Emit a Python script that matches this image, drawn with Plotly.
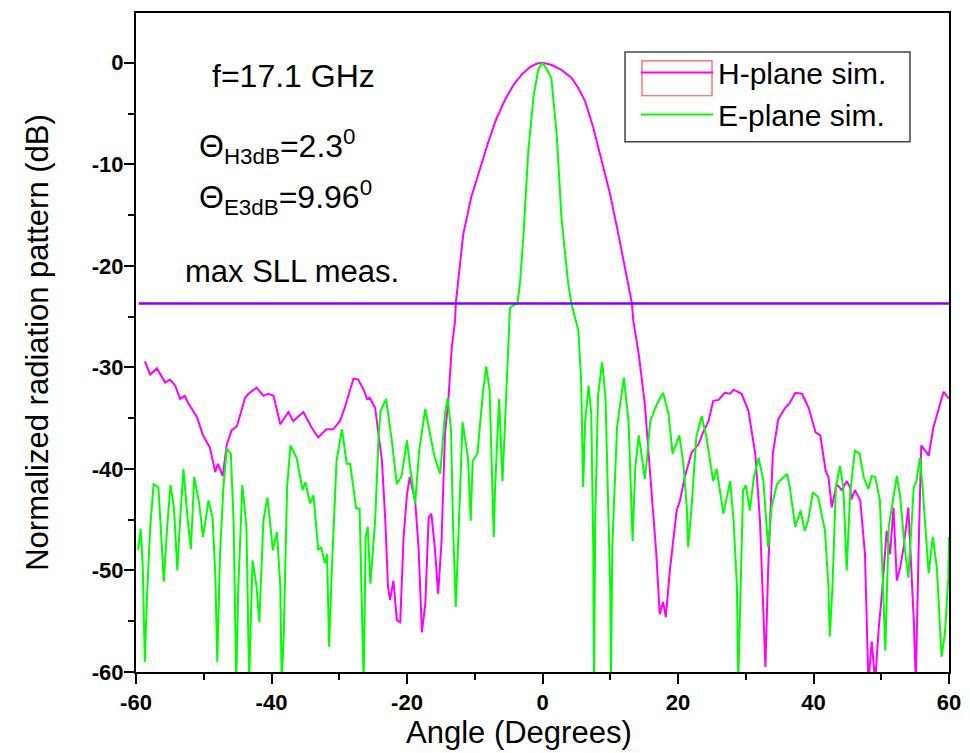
import plotly.graph_objects as go

# ---------------- data ----------------
h_angle = [-58.7, -57.9, -56.9, -55.7, -55.0, -54.2, -53.5, -52.8, -52.3, -51.0, -50.1, -49.1,
           -48.3, -47.9, -47.2, -46.6, -45.9, -45.1, -43.9, -43.4, -42.2, -41.2, -40.5, -39.7,
           -38.7, -37.5, -36.8, -35.3, -34.1, -33.1, -31.9, -30.9, -29.9, -29.2, -27.9, -27.2,
           -26.4, -25.9, -25.5, -24.7, -24.2, -23.7, -23.2, -22.8, -22.5, -22.0, -21.5, -21.0,
           -20.5, -20.0, -19.6, -18.8, -18.3, -17.8, -17.3, -16.8, -16.4, -15.9, -15.4, -14.9,
           -14.4, -13.9, -13.4, -12.9, -12.8, -11.7, -10.5, -9.2, -8.0, -6.8, -5.5, -4.3, -3.0,
           -1.8, -0.9, 0.0, 1.3, 2.8, 4.3, 5.3, 6.3, 7.5, 8.8, 10.0, 11.2, 12.3, 13.2, 13.4,
           14.2, 15.1, 16.1, 16.8, 17.3, 17.8, 18.2, 18.8, 19.8, 20.3, 21.0, 22.0, 23.0, 23.7,
           24.5, 25.2, 26.0, 26.9, 27.7, 28.2, 29.4, 30.4, 31.4, 32.1, 32.9, 33.3, 34.0, 34.8,
           35.8, 36.5, 37.3, 38.3, 39.3, 40.3, 41.0, 41.8, 42.2, 42.7, 43.4, 44.2, 44.9, 45.4,
           45.6, 46.1, 46.9, 47.6, 48.1, 48.6, 49.1, 49.6, 50.1, 50.8, 51.3, 51.8, 52.3, 52.8,
           53.3, 54.0, 54.8, 55.1, 55.5, 55.9, 56.5, 57.0, 57.7, 58.5, 59.2, 60.0]
h_db = [-29.4, -30.7, -30.1, -31.5, -31.2, -31.8, -33.1, -32.8, -33.5, -34.9, -36.7, -37.9,
        -40.3, -39.5, -40.7, -37.6, -36.2, -35.8, -33.0, -32.6, -32.0, -32.8, -32.6, -32.8,
        -35.6, -34.4, -35.3, -34.4, -35.9, -36.9, -36.1, -36.1, -35.3, -34.0, -31.1, -31.2,
        -32.2, -33.1, -33.0, -34.0, -36.6, -39.2, -45.1, -51.6, -52.9, -51.0, -54.9, -55.1,
        -46.7, -42.5, -40.8, -43.1, -47.7, -56.1, -53.3, -44.8, -44.4, -47.7, -52.3, -47.1,
        -36.6, -33.3, -28.1, -25.4, -23.7, -16.9, -13.2, -10.4, -7.8, -5.5, -3.6, -2.2, -1.1,
        -0.4, -0.1, 0.0, -0.2, -0.7, -1.5, -2.5, -3.8, -6.4, -9.7, -13.0, -16.9, -20.5, -23.7, -25.4,
        -28.7, -33.6, -41.8, -48.4, -54.3, -53.1, -54.6, -50.0, -44.1, -43.1, -40.8, -38.4, -37.6, -36.4,
        -35.3, -33.3, -33.2, -32.5, -32.6, -32.2, -32.6, -34.3, -38.5, -45.1, -59.5, -50.0, -38.5, -35.1,
        -34.0, -33.5, -32.5, -32.6, -34.0, -36.4, -36.7, -40.2, -40.8, -43.8, -41.5, -42.1, -41.2, -41.8,
        -43.0, -42.1, -43.1, -48.4, -61.0, -57.0, -61.0, -55.9, -52.3, -46.1, -48.4, -43.8, -51.0, -49.7,
        -47.7, -43.8, -54.9, -61.0, -48.4, -37.7, -38.2, -38.7, -35.9, -34.0, -32.4, -33.1]

e_angle = [-59.7, -59.3, -59.0, -58.7, -58.4, -57.9, -57.4, -56.7, -56.4, -55.9, -55.4, -54.9,
           -54.4, -53.9, -53.5, -53.0, -52.4, -51.9, -51.4, -50.7, -50.1, -49.3, -48.7, -48.3,
           -48.0, -47.6, -47.1, -46.6, -46.0, -45.6, -45.2, -44.9, -44.3, -43.7, -43.3, -42.8,
           -42.2, -41.8, -41.2, -40.6, -39.8, -39.2, -38.7, -38.5, -38.2, -37.7, -37.2, -36.3,
           -35.4, -35.0, -34.3, -33.8, -33.1, -32.7, -32.1, -31.8, -31.5, -31.1, -30.4, -29.6,
           -28.9, -28.4, -27.5, -27.0, -26.4, -26.1, -25.8, -25.4, -24.7, -24.2, -23.9, -23.1,
           -22.3, -21.5, -20.8, -20.0, -19.6, -18.8, -18.2, -17.3, -16.6, -15.9, -15.1, -14.4,
           -14.0, -13.5, -13.2, -12.8, -12.4, -11.8, -11.0, -10.6, -10.3, -9.6, -8.8, -8.3, -7.8,
           -7.2, -7.0, -6.4, -5.9, -5.3, -4.8, -4.3, -3.7, -3.3, -2.8, -2.1, -1.3, -0.6, 0.0,
           0.6, 1.3, 2.1, 2.8, 3.8, 4.3, 4.8, 5.3, 5.7, 6.0, 6.3, 6.8, 7.2, 7.5, 7.6, 7.8, 8.2,
           8.8, 9.3, 9.7, 10.0, 10.1, 10.3, 11.0, 12.0, 12.7, 13.3, 13.7, 14.2, 14.6, 15.1, 15.4,
           15.9, 16.9, 17.8, 18.6, 19.2, 20.2, 20.8, 21.3, 21.5, 22.0, 22.7, 23.5, 24.2, 25.2,
           25.7, 26.7, 27.7, 28.2, 28.7, 28.9, 29.3, 29.6, 30.0, 30.6, 31.2, 31.9, 32.6, 33.3,
           33.8, 34.6, 35.3, 36.1, 36.5, 37.3, 38.1, 38.7, 39.2, 39.9, 40.7, 41.7, 42.2, 42.4,
           42.8, 43.3, 43.9, 44.4, 44.9, 45.4, 46.1, 46.8, 47.4, 48.1, 48.6, 49.1, 49.8, 50.3,
           50.6, 51.1, 51.8, 52.3, 52.8, 53.5, 54.0, 54.8, 55.2, 55.7, 56.1, 56.5, 57.0, 57.6,
           58.2, 58.9, 59.4, 59.9, 60.0]
e_db = [-48.0, -45.9, -49.7, -59.0, -52.9, -45.7, -41.5, -41.8, -45.1, -51.1, -45.7, -41.6,
        -43.8, -50.0, -45.1, -40.0, -44.8, -47.9, -40.8, -43.3, -46.7, -43.1, -44.8, -50.3,
        -59.0, -48.4, -41.8, -38.0, -38.5, -45.1, -61.0, -51.6, -41.6, -45.7, -61.0, -49.0,
        -51.6, -55.1, -45.1, -42.8, -48.0, -46.2, -51.6, -61.0, -56.5, -41.8, -37.7, -38.9,
        -42.1, -41.3, -43.4, -42.6, -48.0, -47.7, -49.3, -48.4, -57.5, -50.0, -39.2, -36.1,
        -39.5, -39.5, -43.9, -43.9, -61.0, -46.7, -45.7, -51.3, -45.1, -36.9, -34.3, -33.1,
        -36.9, -41.5, -40.7, -37.2, -39.5, -43.4, -38.2, -34.1, -36.6, -38.9, -40.5, -34.6,
        -33.0, -36.2, -45.7, -53.6, -46.4, -35.4, -38.9, -45.1, -39.2, -38.5, -32.5, -29.9, -32.3,
        -46.7, -41.8, -33.1, -41.2, -31.0, -24.1, -23.9, -23.7, -21.5, -16.9, -8.7, -3.2, -0.6, 0.0,
        -0.6, -1.5, -7.1, -15.3, -21.8, -23.8, -25.1, -26.4, -31.3, -41.8, -35.3, -31.8, -34.6, -48.0, -61.0, -44.4, -32.7,
        -29.5, -33.0, -42.8, -52.0, -61.0, -47.7, -35.9, -31.0, -35.3, -47.1, -39.8, -36.7, -38.5, -41.0, -39.2,
        -35.3, -33.6, -32.5, -34.6, -38.5, -36.7, -39.5, -43.8, -47.7, -43.8, -36.9, -34.8, -36.9, -41.2,
        -40.0, -44.4, -41.2, -45.1, -51.6, -61.0, -48.4, -42.1, -41.6, -44.1, -40.8, -38.9, -41.2, -47.7,
        -43.8, -41.5, -41.0, -40.5, -41.8, -45.7, -44.1, -46.1, -45.1, -42.3, -42.8, -46.1, -51.6, -56.5,
        -51.6, -41.8, -39.7, -41.8, -50.0, -42.5, -38.2, -38.5, -40.8, -42.0, -40.7, -40.8, -43.1, -51.6,
        -57.9, -45.7, -42.5, -40.7, -42.8, -48.0, -50.7, -41.8, -41.2, -38.9, -41.8, -45.7, -50.3, -46.7,
        -49.7, -58.5, -56.2, -50.7, -46.7]

sll_angle = [-59.6, 60.0]
sll_db = [-23.7, -23.7]

series_names = ["H-plane sim.", "E-plane sim."]
x_ticks = [-60, -40, -20, 0, 20, 40, 60]
x_tick_labels = ["-60", "-40", "-20", "0", "20", "40", "60"]
y_ticks = [0, -10, -20, -30, -40, -50, -60]
y_tick_labels = ["0", "-10", "-20", "-30", "-40", "-50", "-60"]
x_title = "Angle (Degrees)"
y_title = "Normalized radiation pattern (dB)"
notes = ["f=17.1 GHz",
         "Θ<sub>H3dB</sub>=2.3<sup>0</sup>",
         "Θ<sub>E3dB</sub>=9.96<sup>0</sup>",
         "max SLL meas."]

FONT = "Liberation Sans, Arial, sans-serif"

fig = go.Figure()
fig.add_trace(go.Scatter(x=h_angle, y=h_db, mode="lines", name=series_names[0],
                         line=dict(color="#ff00ff", width=2), legendgroup="h"))
fig.add_trace(go.Scatter(x=e_angle, y=e_db, mode="lines", name=series_names[1],
                         line=dict(color="#00ff00", width=2), legendgroup="e"))
fig.add_trace(go.Scatter(x=sll_angle, y=sll_db, mode="lines", showlegend=False,
                         line=dict(color="#8000ff", width=2.5)))

# page body has an 8px margin: the figure is sized / offset so the plot lands where the reference has it
fig.update_layout(
    width=962, height=745,
    margin=dict(l=128, r=21, t=3, b=81),
    paper_bgcolor="white", plot_bgcolor="white",
    font=dict(family=FONT, color="black"),
    showlegend=True,
    legend=dict(x=0.6150, y=0.949, xanchor="left", yanchor="top",
                bgcolor="rgba(0,0,0,0)", borderwidth=0,
                font=dict(size=30, family=FONT), itemwidth=72, tracegroupgap=0),
    shapes=[
        dict(type="rect", xref="paper", yref="paper", x0=0.6015, x1=0.952, y0=0.8048, y1=0.941,
             line=dict(color="#444444", width=1.5), fillcolor="white", layer="above"),
        dict(type="rect", xref="paper", yref="paper", x0=0.6224, x1=0.7085, y0=0.8744, y1=0.9274,
             line=dict(color="#ff5555", width=1.2), fillcolor="rgba(0,0,0,0)", layer="above"),
    ],
)

fig.update_xaxes(range=[-60, 60], tickvals=x_ticks, ticktext=x_tick_labels,
                 ticks="outside", ticklen=10, tickwidth=2,
                 tickcolor="black", showline=True, linewidth=2, linecolor="black", mirror=True,
                 showgrid=False, zeroline=False,
                 tickfont=dict(size=22, family=FONT, weight="bold"),
                 minor=dict(dtick=10, tick0=0, ticks="outside", ticklen=6, tickwidth=2,
                            tickcolor="black", showgrid=False))
fig.update_yaxes(range=[-60, 4.9], tickvals=y_ticks, ticktext=y_tick_labels,
                 ticks="outside", ticklen=10, tickwidth=2, ticklabelstandoff=-4,
                 tickcolor="black", showline=True, linewidth=2, linecolor="black", mirror=True,
                 showgrid=False, zeroline=False,
                 tickfont=dict(size=22, family=FONT, weight="bold"),
                 minor=dict(dtick=5, tick0=0, ticks="outside", ticklen=6, tickwidth=2,
                            tickcolor="black", showgrid=False),
                 title=dict(text=y_title, font=dict(size=31, family=FONT), standoff=34))

# x-axis title (placed slightly left of centre, as in the reference)
fig.add_annotation(text=x_title, x=0.471, y=-0.0925, xref="paper", yref="paper",
                   xanchor="center", yanchor="middle", showarrow=False, borderpad=0,
                   font=dict(size=31, family=FONT, color="black"))

ann_pos = [(0.091, 0.9045), (0.075, 0.798), (0.075, 0.72), (0.058, 0.608)]
ann_size = [32, 32, 32, 31]
for txt, (ax, ay), sz in zip(notes, ann_pos, ann_size):
    fig.add_annotation(text=txt, x=ax, y=ay, xref="paper", yref="paper",
                       xanchor="left", yanchor="middle", showarrow=False,
                       font=dict(size=sz, family=FONT, color="black"))

fig.write_html("out.html")
